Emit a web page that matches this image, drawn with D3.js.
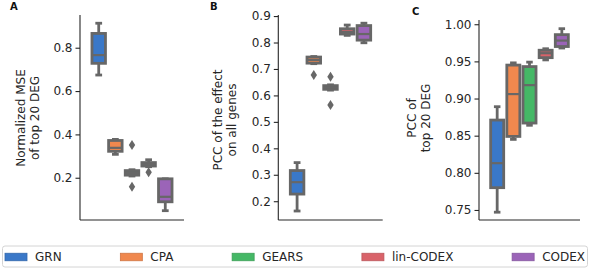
<!DOCTYPE html>
<html>
<head>
<meta charset="utf-8">
<script src="https://cdn.jsdelivr.net/npm/d3@7"></script>
<style>
  body { margin: 0; background: #fff; }
  svg { font-family: "DejaVu Sans", sans-serif; }
</style>
</head>
<body>
<svg id="chart" width="590" height="269"></svg>
<script>
const methods = ['GRN', 'CPA', 'GEARS', 'lin-CODEX', 'CODEX'];
const colors = ['#3a78c8', '#f0884e', '#45b866', '#d9636a', '#9b64b8'];

// box stats: [whislo, q1, median, q3, whishi]
const mseStats = [
  [0.674, 0.728, 0.766, 0.866, 0.913],
  [0.308, 0.322, 0.338, 0.372, 0.377],
  [0.208, 0.212, 0.222, 0.233, 0.237],
  [0.251, 0.254, 0.262, 0.270, 0.283],
  [0.048, 0.089, 0.112, 0.195, 0.195]
];
const mseOutliers = [[], [], [0.351, 0.159], [0.225], []];
const mseTicks = [0.2, 0.4, 0.6, 0.8];

const pccAllStats = [
  [0.163, 0.227, 0.272, 0.316, 0.346],
  [0.720, 0.722, 0.734, 0.745, 0.747],
  [0.620, 0.623, 0.630, 0.637, 0.640],
  [0.827, 0.832, 0.840, 0.852, 0.866],
  [0.799, 0.809, 0.832, 0.864, 0.873]
];
const pccAllOutliers = [[], [0.677], [0.671, 0.564], [], []];
const pccAllTicks = [0.2, 0.3, 0.4, 0.5, 0.6, 0.7, 0.8, 0.9];

const pccDegStats = [
  [0.747, 0.780, 0.813, 0.871, 0.889],
  [0.845, 0.849, 0.906, 0.945, 0.948],
  [0.864, 0.867, 0.918, 0.943, 0.949],
  [0.952, 0.955, 0.961, 0.965, 0.967],
  [0.968, 0.970, 0.978, 0.986, 0.994]
];
const pccDegOutliers = [[], [], [], [], []];
const pccDegTicks = [0.75, 0.80, 0.85, 0.90, 0.95, 1.00];

const panels = [
  { letter: 'A', lx: 10, ly: 10, x0: 80, x1: 184, top: 15, dom: [0.005, 0.951],
    stats: mseStats, out: mseOutliers, ticks: mseTicks, fmt: '.1f',
    label: ['Normalized MSE', 'of top 20 DEG'], labX: 20.5, labY: 118 },
  { letter: 'B', lx: 210, ly: 10, x0: 278.3, x1: 382.7, top: 15, dom: [0.129, 0.904],
    stats: pccAllStats, out: pccAllOutliers, ticks: pccAllTicks, fmt: '.1f',
    label: ['PCC of the effect', 'on all genes'], labX: 217.5, labY: 120 },
  { letter: 'C', lx: 412, ly: 15, x0: 479, x1: 580, top: 20, dom: [0.7365, 1.0057],
    stats: pccDegStats, out: pccDegOutliers, ticks: pccDegTicks, fmt: '.2f',
    label: ['PCC of', 'top 20 DEG'], labX: 411.5, labY: 118 }
];

const svg = d3.select('svg#chart');
const bottom = 220;
const edge = '#676767';
const lw = 2.8;

panels.forEach(p => {
  const g = svg.append('g');
  const W = p.x1 - p.x0;
  const x = d3.scaleBand().domain(methods).range([p.x0 + 0.1 * W, p.x1 - 0.1 * W]);
  const y = d3.scaleLinear().domain(p.dom).range([bottom, p.top]);
  const bw = x.bandwidth() * 0.98 - lw;

  // y axis
  const yAxis = g.append('g')
      .attr('transform', `translate(${p.x0},0)`)
      .call(d3.axisLeft(y).tickValues(p.ticks).tickFormat(d3.format(p.fmt)).tickSize(4.5).tickPadding(3));
  yAxis.select('.domain').attr('d', `M0,${p.top}V${bottom}`).attr('stroke', '#262626').attr('stroke-width', 1.1);
  yAxis.selectAll('.tick line').attr('stroke', '#262626').attr('stroke-width', 1.1);
  yAxis.selectAll('.tick text').attr('font-size', 12).attr('fill', '#262626')
      .attr('font-family', '"DejaVu Sans", sans-serif');

  // x axis line
  g.append('line')
      .attr('x1', p.x0).attr('x2', p.x1)
      .attr('y1', bottom).attr('y2', bottom)
      .attr('stroke', '#262626').attr('stroke-width', 1.1);

  // boxes
  methods.forEach((m, i) => {
    const s = p.stats[i];
    const cx = x(m) + x.bandwidth() / 2;
    const bg = g.append('g');
    bg.append('line').attr('x1', cx).attr('x2', cx).attr('y1', y(s[3])).attr('y2', y(s[4]))
        .attr('stroke', edge).attr('stroke-width', lw);
    bg.append('line').attr('x1', cx).attr('x2', cx).attr('y1', y(s[1])).attr('y2', y(s[0]))
        .attr('stroke', edge).attr('stroke-width', lw);
    [s[0], s[4]].forEach(v => {
      bg.append('line').attr('x1', cx - bw / 4).attr('x2', cx + bw / 4)
          .attr('y1', y(v)).attr('y2', y(v))
          .attr('stroke', edge).attr('stroke-width', lw);
    });
    bg.append('rect')
        .attr('x', cx - bw / 2).attr('width', bw)
        .attr('y', y(s[3])).attr('height', Math.max(0.5, y(s[1]) - y(s[3])))
        .attr('fill', colors[i]).attr('stroke', edge).attr('stroke-width', lw);
    bg.append('line').attr('x1', cx - bw / 2).attr('x2', cx + bw / 2)
        .attr('y1', y(s[2])).attr('y2', y(s[2]))
        .attr('stroke', edge).attr('stroke-width', 2.2);
    p.out[i].forEach(v => {
      bg.append('path')
          .attr('d', `M${cx},${y(v) - 5}L${cx + 3.2},${y(v)}L${cx},${y(v) + 5}L${cx - 3.2},${y(v)}Z`)
          .attr('fill', edge);
    });
  });

  // y label
  const lab = g.append('text')
      .attr('transform', `translate(${p.labX},${p.labY}) rotate(-90)`)
      .attr('text-anchor', 'middle')
      .attr('font-size', 12).attr('fill', '#262626');
  p.label.forEach((t, k) => {
    lab.append('tspan').attr('x', 0).attr('dy', k === 0 ? '0.35em' : '1.2em').text(t);
  });

  // panel letter
  g.append('text')
      .attr('x', p.lx).attr('y', p.ly)
      .attr('font-size', 10).attr('font-weight', 'bold').attr('fill', '#111')
      .text(p.letter);
});

// legend
const leg = svg.append('g');
leg.append('rect')
    .attr('x', 2.5).attr('y', 246).attr('width', 585).attr('height', 21)
    .attr('rx', 2.5).attr('fill', '#fff').attr('stroke', '#d4d4d4').attr('stroke-width', 1);
const items = leg.selectAll('g.item').data(methods).join('g').attr('class', 'item');
items.append('rect')
    .attr('width', 22).attr('height', 7.5).attr('y', -3.75)
    .attr('fill', (d, i) => colors[i])
    .attr('stroke', (d, i) => d3.color(colors[i]).darker(0.4)).attr('stroke-width', 0.8);
items.append('text')
    .attr('x', 30).attr('dy', '0.35em')
    .attr('font-size', 12).attr('fill', '#262626')
    .text(d => d);
const widths = items.nodes().map(n => 30 + d3.select(n).select('text').node().getComputedTextLength());
const startX = 5, endX = 585;
const gap = (endX - startX - d3.sum(widths)) / (methods.length - 1);
let cur = startX;
items.each(function(d, i) {
  d3.select(this).attr('transform', `translate(${cur},257)`);
  cur += widths[i] + gap;
});
</script>
</body>
</html>
